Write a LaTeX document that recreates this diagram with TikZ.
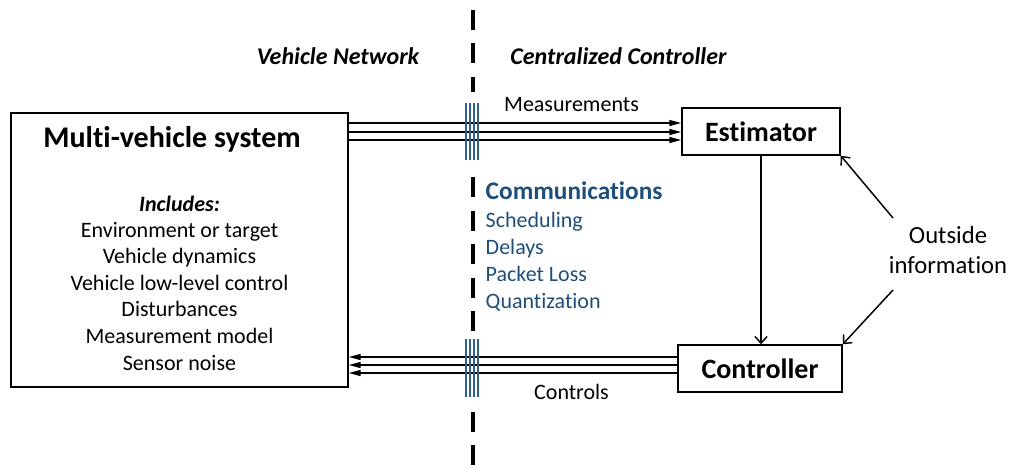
\documentclass[tikz,border=0pt]{standalone}
\usepackage{fontspec}
\setmainfont{Carlito}[Ligatures=NoCommon]
\usetikzlibrary{arrows.meta}
\definecolor{commblue}{RGB}{31,78,121}
\definecolor{hatchblue}{RGB}{46,95,145}

\tikzset{every picture/.style={line width=1.1pt}}

\begin{document}
\begin{tikzpicture}[x=0.75pt,y=0.75pt,yscale=-1,xscale=1,
  body/.style={font=\fontsize{16.5}{20}\selectfont, inner sep=0pt, anchor=base},
  commtxt/.style={font=\fontsize{16.5}{20}\selectfont, text=commblue, inner sep=0pt, anchor=base west},
  sidehead/.style={font=\fontsize{18}{22}\selectfont\bfseries\itshape, inner sep=0pt, anchor=base},
  blockbox/.style={draw, inner sep=0pt, minimum height=35.25pt, font=\fontsize{21}{25}\selectfont\bfseries},
  meas/.style={-{Triangle[length=9pt,width=4.5pt]}},
  barb/.style={-{Straight Barb[length=5pt,width=9pt]}},
  hatch/.style={draw=hatchblue, line width=1pt},
  divider/.style={line width=3.4pt, dash pattern=on 15pt off 10.1pt}]
\useasboundingbox (0,0) rectangle (1013,468);

%Vehicle side / controller side split
\draw[divider] (473,10) -- (473,465);
\fill[white] (462,92) rectangle (484,170);
\fill[white] (462,333) rectangle (484,402);

% Side headings
\node (vnet) [sidehead] at (338,64) {Vehicle Network};
\node (ccon) [sidehead] at (618.5,64) {Centralized Controller};

% Multi-vehicle system box
\node (sys) [draw, minimum width=252.75pt, minimum height=205.5pt] at (179.5,250) {};
\node (title) [anchor=base, inner sep=0pt, font=\fontsize{22.5}{27}\selectfont\bfseries] at (172,147) {Multi-vehicle system};
\node (incl) [body, font=\fontsize{16.5}{20}\selectfont\bfseries\itshape] at (179.5,211) {Includes:};
\node (env) [body] at (179.5,237) {Environment or target};
\node (dyn) [body] at (179.5,263.6) {Vehicle dynamics};
\node (llc) [body] at (179.5,290.2) {Vehicle low-level control};
\node (dist) [body] at (179.5,316.8) {Disturbances};
\node (mmod) [body] at (179.5,343.4) {Measurement model};
\node (noise) [body] at (179.5,370) {Sensor noise};

% Estimator and controller
\node (est) [blockbox, minimum width=118.5pt] at (761,131.5) {Estimator};
\node (ctrl) [blockbox, minimum width=123pt] at (760,368.5) {Controller};

% Measurements and controls
\foreach \y in {123,132,140}
  \draw[meas] (sys.east |- 0,\y) -- (est.west |- 0,\y);
\foreach \y in {357,365,373}
  \draw[meas] (ctrl.west |- 0,\y) -- (sys.east |- 0,\y);
\node (measlbl) [body] at (571.5,111) {Measurements};
\node (ctrllbl) [body] at (571.5,399) {Controls};

%Network hatches
\foreach \hx in {466,470,474,478} {
  \draw[hatch] (\hx,103) -- (\hx,160);
  \draw[hatch] (\hx,339) -- (\hx,397);
}

% Communications
\node (comm) [commtxt, font=\fontsize{19}{23}\selectfont\bfseries] at (485,199) {Communications};
\node (sched) [commtxt] at (485,227) {Scheduling};
\node (delay) [commtxt] at (485,254) {Delays};
\node (loss) [commtxt] at (485,281) {Packet Loss};
\node (quant) [commtxt] at (485,308) {Quantization};

% Estimator to controller
\draw[barb] (est.south) -- (est.south |- ctrl.north);

% Outside information
\node (out1) [body, font=\fontsize{18.5}{22}\selectfont] at (948,243) {Outside};
\node (out2) [body, font=\fontsize{18.5}{22}\selectfont] at (948,273) {information};
\coordinate (oa) at (893,218);
\coordinate (ob) at (893,290);
\draw[barb] (oa) -- (est.south east);
\draw[barb] (ob) -- (ctrl.north east);

\end{tikzpicture}
\end{document}
